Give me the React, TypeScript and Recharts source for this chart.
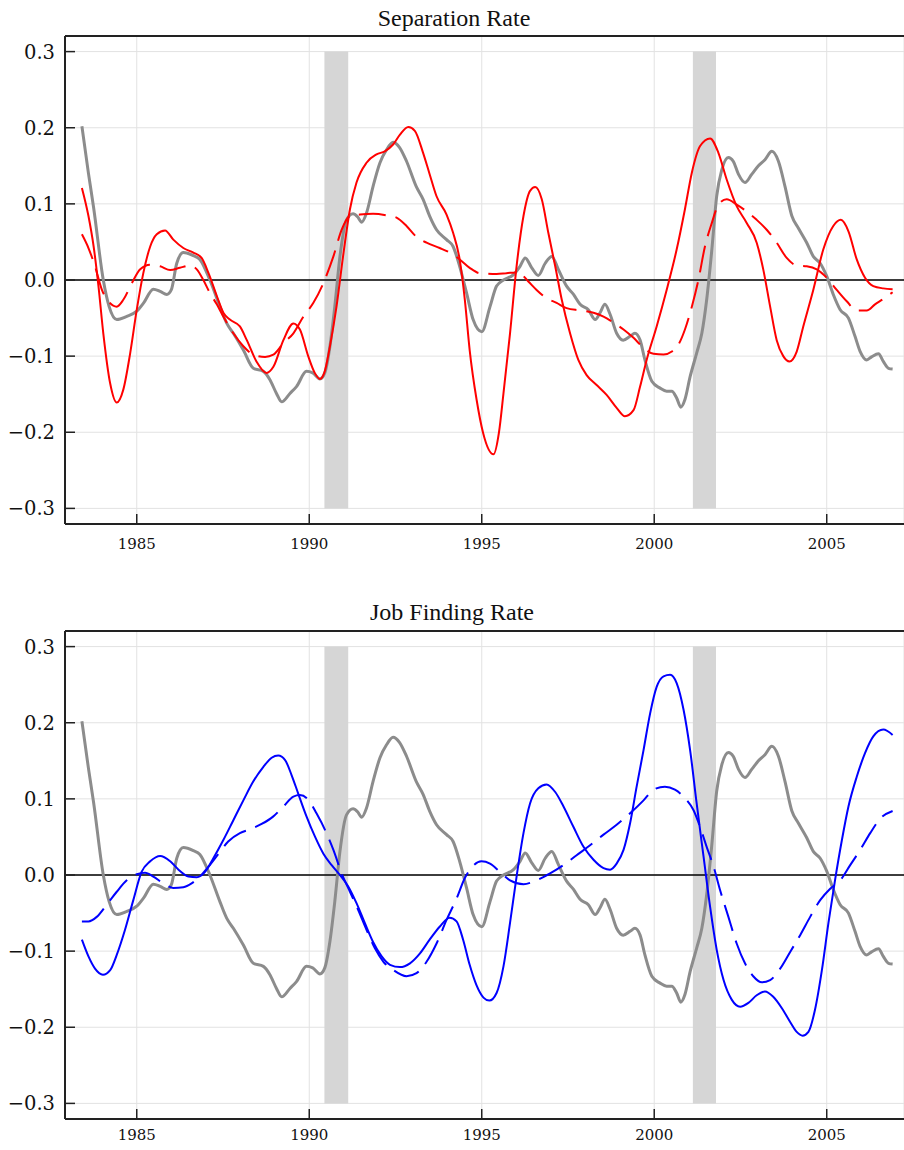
import React from "react";
import { LineChart, Line, XAxis, YAxis, CartesianGrid, ReferenceArea, ReferenceLine } from "recharts";

// actual series (gray), same in both panels
const actualYears = [1983.41, 1983.6, 1983.75, 1984.03, 1984.2, 1984.42, 1984.7, 1985.0, 1985.2, 1985.48, 1985.68, 1985.87, 1986.0, 1986.16, 1986.35, 1986.64, 1986.83, 1987.12, 1987.41, 1987.61, 1987.8, 1988.09, 1988.38, 1988.67, 1988.86, 1989.05, 1989.2, 1989.44, 1989.63, 1989.92, 1990.1, 1990.31, 1990.45, 1990.6, 1990.74, 1990.89, 1991.08, 1991.27, 1991.4, 1991.52, 1991.66, 1991.85, 1992.05, 1992.24, 1992.43, 1992.62, 1992.82, 1993.1, 1993.3, 1993.49, 1993.69, 1993.98, 1994.17, 1994.36, 1994.56, 1994.75, 1995.0, 1995.24, 1995.43, 1995.63, 1995.92, 1996.11, 1996.26, 1996.45, 1996.64, 1996.84, 1997.03, 1997.22, 1997.46, 1997.66, 1997.85, 1998.09, 1998.29, 1998.43, 1998.57, 1998.72, 1998.91, 1999.1, 1999.3, 1999.44, 1999.59, 1999.73, 1999.93, 2000.17, 2000.36, 2000.51, 2000.65, 2000.77, 2000.89, 2001.04, 2001.23, 2001.38, 2001.52, 2001.67, 2001.81, 2001.96, 2002.15, 2002.29, 2002.44, 2002.63, 2002.83, 2003.02, 2003.21, 2003.41, 2003.6, 2003.79, 2003.99, 2004.18, 2004.42, 2004.61, 2004.81, 2005.0, 2005.19, 2005.39, 2005.63, 2005.82, 2005.97, 2006.16, 2006.3, 2006.5, 2006.64, 2006.79, 2006.91];
const actualVals = [0.202, 0.14, 0.095, 0.0, -0.035, -0.052, -0.048, -0.041, -0.03, -0.012, -0.015, -0.019, -0.013, 0.022, 0.036, 0.032, 0.027, 0.0, -0.035, -0.057, -0.07, -0.092, -0.116, -0.12, -0.131, -0.149, -0.16, -0.149, -0.14, -0.12, -0.122, -0.13, -0.122, -0.087, -0.035, 0.031, 0.079, 0.087, 0.083, 0.076, 0.088, 0.123, 0.154, 0.171, 0.181, 0.174, 0.156, 0.123, 0.106, 0.084, 0.066, 0.053, 0.044, 0.018, -0.017, -0.052, -0.068, -0.035, -0.008, 0.0, 0.007, 0.018, 0.029, 0.016, 0.006, 0.022, 0.031, 0.014, -0.008, -0.019, -0.032, -0.039, -0.052, -0.043, -0.032, -0.045, -0.07, -0.079, -0.074, -0.07, -0.079, -0.105, -0.133, -0.142, -0.146, -0.146, -0.155, -0.167, -0.157, -0.127, -0.096, -0.07, -0.026, 0.04, 0.11, 0.145, 0.161, 0.156, 0.139, 0.128, 0.139, 0.15, 0.158, 0.169, 0.156, 0.123, 0.084, 0.068, 0.049, 0.031, 0.022, 0.005, -0.019, -0.039, -0.05, -0.074, -0.094, -0.105, -0.101, -0.097, -0.107, -0.116, -0.117];

// separation rate, model (red solid)
const sepSolidYears = [1983.41, 1983.6, 1983.75, 1983.89, 1984.03, 1984.23, 1984.42, 1984.61, 1984.81, 1985.0, 1985.19, 1985.39, 1985.58, 1985.82, 1986.06, 1986.35, 1986.64, 1986.88, 1987.08, 1987.32, 1987.51, 1987.7, 1987.99, 1988.19, 1988.47, 1988.76, 1988.96, 1989.25, 1989.54, 1989.73, 1989.97, 1990.16, 1990.31, 1990.45, 1990.6, 1990.79, 1990.98, 1991.18, 1991.37, 1991.66, 1991.95, 1992.19, 1992.43, 1992.63, 1992.87, 1993.06, 1993.3, 1993.49, 1993.69, 1993.98, 1994.17, 1994.36, 1994.51, 1994.65, 1994.85, 1995.04, 1995.34, 1995.5, 1995.63, 1995.82, 1996.01, 1996.21, 1996.4, 1996.55, 1996.74, 1996.93, 1997.13, 1997.32, 1997.56, 1997.8, 1998.04, 1998.33, 1998.62, 1998.91, 1999.15, 1999.4, 1999.59, 1999.78, 2000.07, 2000.36, 2000.65, 2000.89, 2001.09, 2001.33, 2001.62, 2001.86, 2002.1, 2002.39, 2002.68, 2002.97, 2003.16, 2003.36, 2003.55, 2003.74, 2003.92, 2004.13, 2004.32, 2004.61, 2004.9, 2005.19, 2005.41, 2005.63, 2005.87, 2006.11, 2006.35, 2006.64, 2006.91];
const sepSolidVals = [0.121, 0.084, 0.044, -0.008, -0.07, -0.136, -0.161, -0.144, -0.096, -0.039, 0.009, 0.044, 0.06, 0.065, 0.053, 0.042, 0.036, 0.029, 0.009, -0.021, -0.043, -0.052, -0.061, -0.079, -0.107, -0.122, -0.114, -0.079, -0.057, -0.065, -0.1, -0.122, -0.13, -0.12, -0.087, -0.035, 0.031, 0.093, 0.128, 0.154, 0.165, 0.169, 0.178, 0.191, 0.201, 0.196, 0.167, 0.139, 0.11, 0.086, 0.062, 0.027, -0.026, -0.092, -0.157, -0.201, -0.229, -0.2, -0.149, -0.07, 0.018, 0.084, 0.117, 0.122, 0.106, 0.062, 0.018, -0.026, -0.07, -0.105, -0.125, -0.138, -0.151, -0.168, -0.179, -0.171, -0.14, -0.105, -0.061, -0.013, 0.04, 0.093, 0.141, 0.176, 0.186, 0.167, 0.132, 0.097, 0.075, 0.049, 0.014, -0.035, -0.079, -0.1, -0.107, -0.094, -0.061, -0.013, 0.04, 0.071, 0.079, 0.064, 0.027, 0.003, -0.008, -0.011, -0.012];

// separation rate, second model (red dashed)
const sepDashYears = [1983.41, 1983.6, 1983.79, 1983.99, 1984.18, 1984.42, 1984.61, 1984.86, 1985.1, 1985.39, 1985.68, 1985.97, 1986.25, 1986.54, 1986.74, 1986.93, 1987.12, 1987.32, 1987.51, 1987.8, 1988.09, 1988.38, 1988.72, 1988.96, 1989.25, 1989.54, 1989.83, 1990.12, 1990.41, 1990.7, 1990.94, 1991.18, 1991.47, 1991.85, 1992.24, 1992.53, 1992.82, 1993.1, 1993.4, 1993.78, 1994.07, 1994.36, 1994.65, 1994.94, 1995.43, 1995.72, 1996.06, 1996.35, 1996.59, 1996.88, 1997.17, 1997.46, 1997.85, 1998.24, 1998.53, 1998.82, 1999.11, 1999.4, 1999.69, 1999.98, 2000.27, 2000.51, 2000.7, 2000.89, 2001.09, 2001.28, 2001.47, 2001.67, 2001.86, 2002.1, 2002.39, 2002.68, 2002.97, 2003.26, 2003.55, 2003.84, 2004.13, 2004.42, 2004.71, 2005.0, 2005.29, 2005.58, 2005.87, 2006.16, 2006.4, 2006.64, 2006.91];
const sepDashVals = [0.06, 0.042, 0.018, -0.013, -0.028, -0.035, -0.026, -0.004, 0.014, 0.02, 0.018, 0.013, 0.016, 0.019, 0.014, 0.0, -0.017, -0.032, -0.048, -0.07, -0.087, -0.098, -0.101, -0.098, -0.083, -0.07, -0.048, -0.03, -0.004, 0.031, 0.066, 0.084, 0.086, 0.087, 0.085, 0.082, 0.071, 0.057, 0.049, 0.042, 0.036, 0.027, 0.016, 0.009, 0.008, 0.009, 0.01, -0.002, -0.013, -0.024, -0.03, -0.037, -0.04, -0.043, -0.048, -0.056, -0.065, -0.076, -0.089, -0.097, -0.098, -0.094, -0.085, -0.065, -0.035, 0.0, 0.044, 0.075, 0.099, 0.106, 0.099, 0.09, 0.079, 0.066, 0.049, 0.029, 0.019, 0.018, 0.014, 0.003, -0.013, -0.028, -0.04, -0.04, -0.032, -0.025, -0.016];

// job finding rate, model (blue solid)
const findSolidYears = [1983.41, 1983.6, 1983.79, 1984.02, 1984.23, 1984.42, 1984.66, 1984.9, 1985.14, 1985.39, 1985.68, 1985.97, 1986.21, 1986.5, 1986.74, 1986.98, 1987.22, 1987.51, 1987.8, 1988.09, 1988.38, 1988.67, 1988.91, 1989.1, 1989.3, 1989.49, 1989.68, 1989.92, 1990.17, 1990.41, 1990.65, 1990.89, 1991.13, 1991.37, 1991.61, 1991.85, 1992.1, 1992.34, 1992.63, 1992.92, 1993.21, 1993.49, 1993.78, 1994.07, 1994.27, 1994.46, 1994.65, 1994.85, 1995.05, 1995.22, 1995.43, 1995.63, 1995.82, 1996.01, 1996.21, 1996.4, 1996.64, 1996.88, 1997.13, 1997.37, 1997.66, 1997.95, 1998.24, 1998.53, 1998.72, 1998.91, 1999.11, 1999.3, 1999.49, 1999.69, 1999.88, 2000.07, 2000.27, 2000.46, 2000.65, 2000.85, 2001.04, 2001.23, 2001.43, 2001.62, 2001.81, 2002.01, 2002.25, 2002.49, 2002.73, 2002.97, 2003.21, 2003.45, 2003.7, 2003.94, 2004.13, 2004.3, 2004.47, 2004.66, 2004.86, 2005.05, 2005.24, 2005.44, 2005.63, 2005.87, 2006.11, 2006.35, 2006.64, 2006.91];
const findSolidVals = [-0.085, -0.107, -0.123, -0.131, -0.125, -0.105, -0.072, -0.033, 0.004, 0.018, 0.025, 0.018, 0.007, -0.002, -0.003, 0.004, 0.022, 0.046, 0.072, 0.098, 0.123, 0.142, 0.154, 0.157, 0.151, 0.131, 0.107, 0.077, 0.05, 0.028, 0.013, 0.0, -0.015, -0.037, -0.063, -0.088, -0.107, -0.118, -0.121, -0.116, -0.103, -0.085, -0.068, -0.056, -0.061, -0.085, -0.118, -0.145, -0.161, -0.165, -0.155, -0.12, -0.063, -0.002, 0.055, 0.094, 0.114, 0.119, 0.109, 0.09, 0.063, 0.037, 0.02, 0.009, 0.007, 0.015, 0.033, 0.068, 0.116, 0.164, 0.212, 0.247, 0.261, 0.263, 0.252, 0.217, 0.164, 0.094, 0.024, -0.042, -0.098, -0.138, -0.164, -0.173, -0.168, -0.158, -0.153, -0.16, -0.175, -0.193, -0.206, -0.211, -0.206, -0.177, -0.125, -0.063, -0.007, 0.046, 0.09, 0.129, 0.16, 0.182, 0.191, 0.184];

// job finding rate, second model (blue dashed)
const findDashYears = [1983.41, 1983.6, 1983.84, 1984.13, 1984.42, 1984.71, 1985.0, 1985.24, 1985.48, 1985.77, 1986.06, 1986.35, 1986.59, 1986.83, 1987.08, 1987.37, 1987.65, 1987.99, 1988.28, 1988.62, 1988.96, 1989.25, 1989.54, 1989.73, 1989.97, 1990.21, 1990.46, 1990.7, 1990.94, 1991.18, 1991.42, 1991.66, 1991.9, 1992.15, 1992.44, 1992.82, 1993.11, 1993.4, 1993.69, 1993.98, 1994.27, 1994.51, 1994.75, 1994.99, 1995.24, 1995.53, 1995.82, 1996.21, 1996.59, 1996.98, 1997.37, 1997.75, 1998.14, 1998.53, 1998.91, 1999.3, 1999.69, 1999.98, 2000.31, 2000.6, 2000.89, 2001.14, 2001.33, 2001.52, 2001.72, 2001.91, 2002.15, 2002.39, 2002.63, 2002.87, 2003.12, 2003.36, 2003.65, 2003.94, 2004.23, 2004.52, 2004.81, 2005.1, 2005.39, 2005.68, 2005.97, 2006.26, 2006.55, 2006.91];
const findDashVals = [-0.061, -0.061, -0.055, -0.039, -0.022, -0.007, 0.001, 0.003, -0.002, -0.011, -0.017, -0.016, -0.011, -0.002, 0.011, 0.028, 0.044, 0.055, 0.06, 0.067, 0.077, 0.09, 0.103, 0.105, 0.099, 0.081, 0.059, 0.033, 0.002, -0.022, -0.046, -0.072, -0.096, -0.114, -0.125, -0.133, -0.129, -0.114, -0.09, -0.059, -0.031, -0.004, 0.012, 0.018, 0.015, 0.004, -0.007, -0.012, -0.007, 0.002, 0.013, 0.026, 0.039, 0.053, 0.066, 0.081, 0.098, 0.112, 0.116, 0.112, 0.101, 0.085, 0.063, 0.037, 0.011, -0.02, -0.055, -0.09, -0.116, -0.133, -0.141, -0.138, -0.123, -0.101, -0.079, -0.055, -0.033, -0.018, -0.007, 0.013, 0.033, 0.055, 0.074, 0.084];

const recessions = [
  [1990.44, 1991.13],
  [2001.12, 2001.79],
];
const xTicks = [1985, 1990, 1995, 2000, 2005];
const yTicks = [-0.3, -0.2, -0.1, 0, 0.1, 0.2, 0.3];
const xDomain = [1982.92, 2007.24];
const yMax = 0.3205;

const zip = (xs: number[], ys: number[]) => xs.map((x, i) => ({ year: x, v: ys[i] }));

const fmt = (v: number) => (v < 0 ? "\u2212" : "") + Math.abs(v).toFixed(1);

const serif = "'DejaVu Serif', 'Liberation Serif', serif";

const YTick = (props: any) => {
  const { x, y, payload } = props;
  return (
    <g>
      <line x1={x + 10} x2={x + 20} y1={y} y2={y} stroke="#222" strokeWidth={1.5} />
      <text x={x} y={y} dy="0.36em" textAnchor="end" style={{ fontFamily: serif, fontSize: 19.5 }} fill="#111">
        {fmt(payload.value)}
      </text>
    </g>
  );
};

const makeXTick = (dy: number) => (props: any) => {
  const { x, y, payload } = props;
  return (
    <g>
      <line x1={x} x2={x} y1={y} y2={y - 10} stroke="#222" strokeWidth={1.5} />
      <text x={x} y={y + dy} textAnchor="middle" style={{ fontFamily: serif, fontSize: 15 }} fill="#111">
        {payload.value}
      </text>
    </g>
  );
};

const Panel = (p: any) => {
  return (
    <LineChart width={904} height={p.height} margin={{ top: p.plotTop, right: 0, bottom: 0, left: 0 }}>
      <CartesianGrid stroke="#e2e2e2" strokeWidth={1} />
      <XAxis
        dataKey="year"
        type="number"
        domain={xDomain}
        ticks={xTicks}
        allowDataOverflow
        height={p.axisHeight}
        tickSize={0}
        tickMargin={0}
        tickLine={false}
        axisLine={{ stroke: "#222", strokeWidth: 2 }}
        tick={makeXTick(p.labelDy)}
      />
      <YAxis
        type="number"
        domain={[-yMax, yMax]}
        ticks={yTicks}
        allowDataOverflow
        width={65}
        tickSize={0}
        tickMargin={10}
        tickLine={false}
        axisLine={{ stroke: "#222", strokeWidth: 2 }}
        tick={YTick}
      />
      {recessions.map((r, i) => (
        <ReferenceArea key={i} x1={r[0]} x2={r[1]} y1={-0.3} y2={0.3} fill="#d6d6d6" fillOpacity={1} stroke="none" />
      ))}
      <ReferenceLine y={0} stroke="#000" strokeWidth={1.5} />
      <ReferenceLine y={yMax} stroke="#222" strokeWidth={2} />
      <Line data={zip(actualYears, actualVals)} dataKey="v" type="monotone" stroke="#8c8c8c" strokeWidth={3} dot={false} isAnimationActive={false} />
      <Line data={p.solid} dataKey="v" type="monotone" stroke={p.color} strokeWidth={2} dot={false} isAnimationActive={false} />
      <Line data={p.dashed} dataKey="v" type="monotone" stroke={p.color} strokeWidth={2} strokeDasharray="27 10" dot={false} isAnimationActive={false} />
    </LineChart>
  );
};

const titleStyle: React.CSSProperties = {
  position: "absolute",
  left: 0,
  width: 904,
  textAlign: "center",
  fontFamily: "'Liberation Serif', serif",
  fontSize: 24,
  lineHeight: "24px",
  color: "#111",
};

export default function App() {
  return (
    <div style={{ position: "absolute", left: 0, top: 0, width: 904, height: 1150, overflow: "hidden", background: "#fff" }}>
      <div style={{ ...titleStyle, top: 6, left: 2 }}>Separation Rate</div>
      <div style={{ position: "absolute", left: 0, top: 0 }}>
        <Panel
          height={560}
          plotTop={36}
          axisHeight={36}
          labelDy={25}
          color="#ff0000"
          solid={zip(sepSolidYears, sepSolidVals)}
          dashed={zip(sepDashYears, sepDashVals)}
        />
      </div>
      <div style={{ ...titleStyle, top: 600 }}>Job Finding Rate</div>
      <div style={{ position: "absolute", left: 0, top: 560 }}>
        <Panel
          height={590}
          plotTop={71}
          axisHeight={31}
          labelDy={21}
          color="#0000ff"
          solid={zip(findSolidYears, findSolidVals)}
          dashed={zip(findDashYears, findDashVals)}
        />
      </div>
    </div>
  );
}
